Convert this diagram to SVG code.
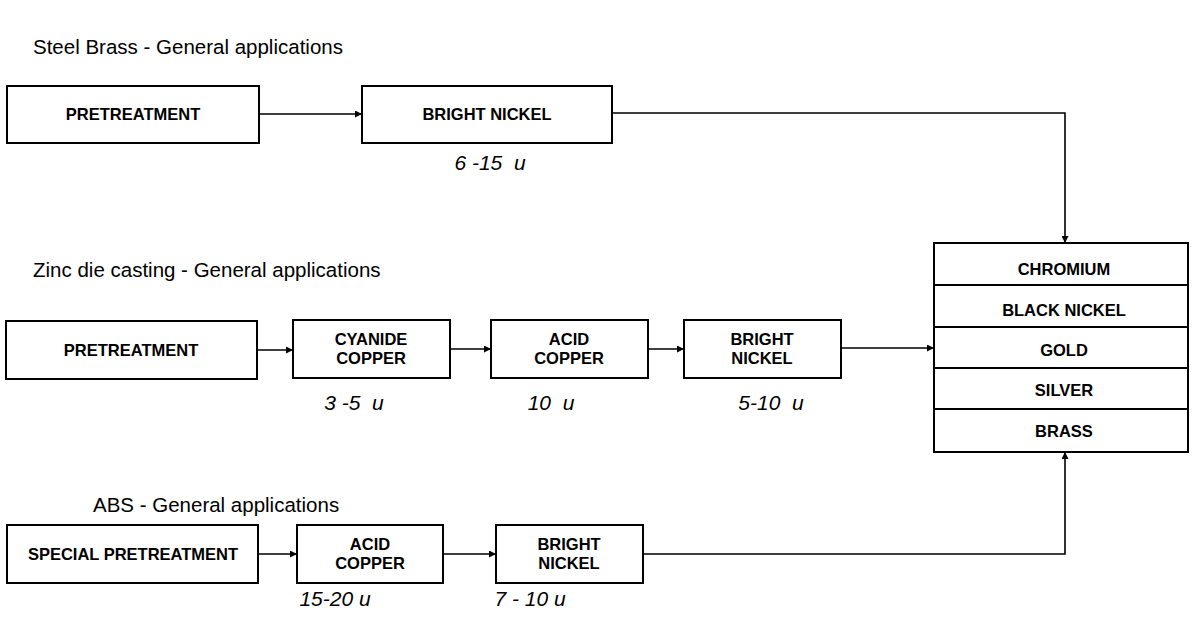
<svg xmlns="http://www.w3.org/2000/svg" width="1192" height="618" viewBox="0 0 1192 618">
<defs>
<marker id="ah" viewBox="0 0 10 10" refX="10" refY="5" markerWidth="9" markerHeight="7" markerUnits="userSpaceOnUse" orient="auto">
<path d="M0,0 L10,5 L0,10 z" fill="#000"/>
</marker>
<style>
.box{fill:#fff;stroke:#000;stroke-width:2}
.lbl{font-family:"Liberation Sans",Arial,sans-serif;font-weight:bold;font-size:16.5px;text-anchor:middle;fill:#000}
.ttl{font-family:"Liberation Sans",Arial,sans-serif;font-size:20.5px;fill:#000}
.thk{font-family:"Liberation Sans",Arial,sans-serif;font-style:italic;font-size:21px;fill:#000;text-anchor:middle;white-space:pre}
.con{fill:none;stroke:#000;stroke-width:1.6;marker-end:url(#ah)}
</style>
</defs>
<rect width="1192" height="618" fill="#fff"/>
<g id="titles">
<text class="ttl" x="33" y="54">Steel Brass - General applications</text>
<text class="ttl" x="33" y="277">Zinc die casting - General applications</text>
<text class="ttl" x="93" y="512">ABS - General applications</text>
</g>
<g id="connectors">
<path class="con" d="M259,114 H362"/>
<path class="con" d="M612,113 H1065 V243"/>
<path class="con" d="M257,350 H293"/>
<path class="con" d="M450,349 H491"/>
<path class="con" d="M648,349 H684"/>
<path class="con" d="M841,348 H934"/>
<path class="con" d="M258,554 H297"/>
<path class="con" d="M443,554 H496"/>
<path class="con" d="M643,554 H1065 V452"/>
</g>
<g id="n-pre1"><rect class="box" x="7" y="86" width="252" height="57"/><text class="lbl" x="133" y="120">PRETREATMENT</text></g>
<g id="n-bn1"><rect class="box" x="362" y="86" width="250" height="57"/><text class="lbl" x="487" y="120">BRIGHT NICKEL</text><text class="thk" x="490" y="170">6 -15  u</text></g>
<g id="n-pre2"><rect class="box" x="6" y="321" width="251" height="58"/><text class="lbl" x="131" y="356">PRETREATMENT</text></g>
<g id="n-cyan"><rect class="box" x="293" y="320" width="157" height="58"/><text class="lbl" x="371" y="345">CYANIDE</text><text class="lbl" x="371" y="364">COPPER</text><text class="thk" x="354" y="410">3 -5  u</text></g>
<g id="n-acid2"><rect class="box" x="491" y="320" width="157" height="58"/><text class="lbl" x="569" y="345">ACID</text><text class="lbl" x="569" y="364">COPPER</text><text class="thk" x="551" y="410">10  u</text></g>
<g id="n-bn2"><rect class="box" x="684" y="320" width="157" height="58"/><text class="lbl" x="762" y="345">BRIGHT</text><text class="lbl" x="762" y="364">NICKEL</text><text class="thk" x="771" y="410">5-10  u</text></g>
<g id="n-finish">
<rect class="box" x="934" y="243" width="254" height="209"/>
<line x1="934" y1="285" x2="1188" y2="285" stroke="#000" stroke-width="2"/>
<line x1="934" y1="327" x2="1188" y2="327" stroke="#000" stroke-width="2"/>
<line x1="934" y1="368" x2="1188" y2="368" stroke="#000" stroke-width="2"/>
<line x1="934" y1="409" x2="1188" y2="409" stroke="#000" stroke-width="2"/>
<text class="lbl" x="1064" y="275">CHROMIUM</text>
<text class="lbl" x="1064" y="316">BLACK NICKEL</text>
<text class="lbl" x="1064" y="356">GOLD</text>
<text class="lbl" x="1064" y="396">SILVER</text>
<text class="lbl" x="1064" y="437">BRASS</text>
</g>
<g id="n-spec"><rect class="box" x="7" y="525" width="251" height="58"/><text class="lbl" x="133" y="560">SPECIAL PRETREATMENT</text></g>
<g id="n-acid3"><rect class="box" x="297" y="525" width="146" height="58"/><text class="lbl" x="370" y="550">ACID</text><text class="lbl" x="370" y="569">COPPER</text><text class="thk" x="335" y="606">15-20 u</text></g>
<g id="n-bn3"><rect class="box" x="496" y="525" width="147" height="58"/><text class="lbl" x="569" y="550">BRIGHT</text><text class="lbl" x="569" y="569">NICKEL</text><text class="thk" x="530" y="606">7 - 10 u</text></g>
</svg>
